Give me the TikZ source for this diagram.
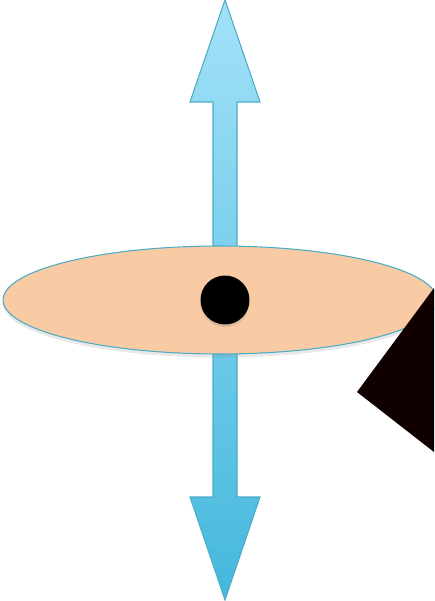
\documentclass[tikz,border=0pt]{standalone}
\usetikzlibrary{shapes.geometric,shadows}
\definecolor{arrowtop}{HTML}{A3E1F8}
\definecolor{arrowbottom}{HTML}{44B8DC}
\definecolor{outline}{HTML}{4BACC6}
\definecolor{discfill}{HTML}{F8CBA4}
\definecolor{wedge}{HTML}{100000}
\tikzset{
    axis arrow/.style = {top color=arrowtop, bottom color=arrowbottom,
                         draw=outline, line width=0.6pt, line join=miter},
    disc/.style       = {ellipse, draw=outline, fill=discfill,
                         line width=0.6pt, inner sep=0pt,
                         minimum width=8.68cm, minimum height=2.16cm,
                         drop shadow={shadow xshift=0pt, shadow yshift=-2pt,
                                      opacity=0.18}},
    pivot/.style      = {circle, fill=black, inner sep=0pt,
                         minimum size=0.98cm,
                         drop shadow={shadow xshift=0pt, shadow yshift=-1.5pt,
                                      opacity=0.25}},
    wedge/.style      = {fill=wedge}
}

\begin{document}
\begin{tikzpicture}[x=0.02cm, y=-0.02cm]

% Frame of the picture, in pixel units of the reference.
\useasboundingbox (0,0) rectangle (434,601);
\clip (0,0) rectangle (434,601);

% Vertical double-headed axis, behind the disc.
\path[axis arrow] (225,0) -- (260,102) -- (237,102) -- (237,497)
    -- (260,497) -- (225,600) -- (190,497) -- (213,497)
    -- (213,102) -- (190,102) -- cycle;

% Flat disc with its pivot point.
\node[disc] (disc) at (220,300) {};
\node[pivot] (pivot) at (225,300) {};

% Dark wedge entering from the right edge.
\fill[wedge] (434,288) -- (357,392) -- (434,452) -- cycle;

\end{tikzpicture}
\end{document}
